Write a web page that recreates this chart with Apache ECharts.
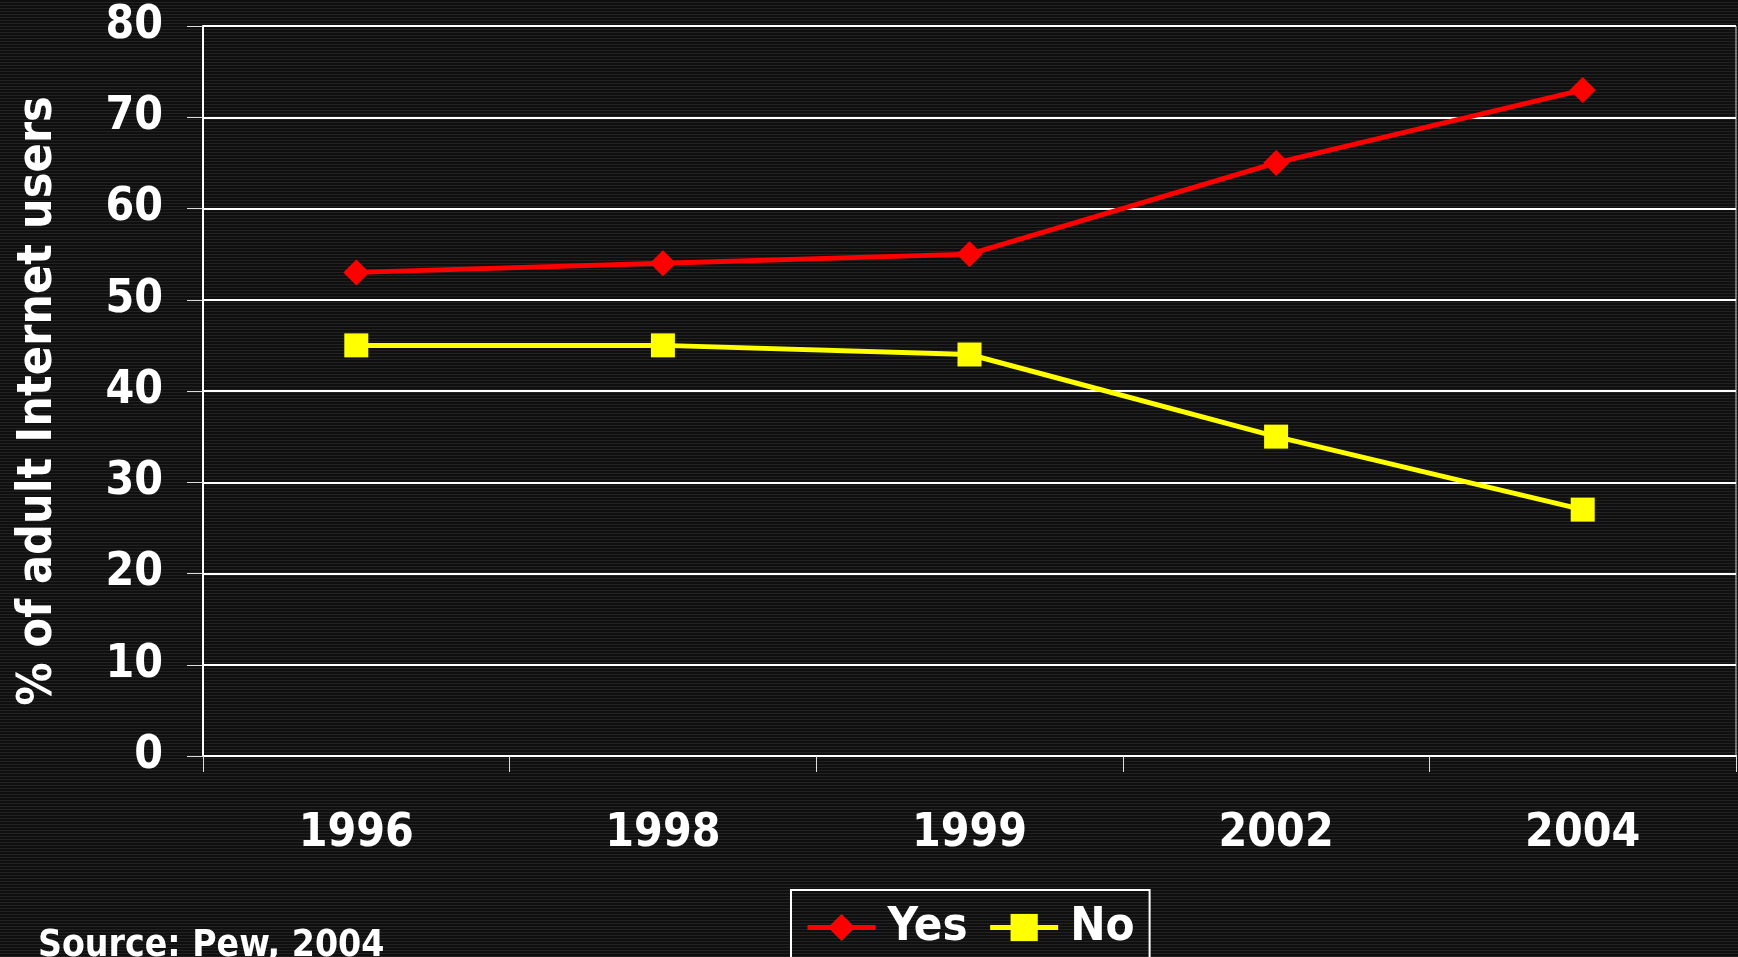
<!DOCTYPE html>
<html>
<head>
<meta charset="utf-8">
<title>Internet users</title>
<script src="https://cdn.jsdelivr.net/npm/echarts@6/dist/echarts.min.js"></script>
<style>
  html, body {
    margin: 0;
    padding: 0;
    width: 1738px;
    height: 957px;
    overflow: hidden;
    background: repeating-linear-gradient(to bottom, #0f0f0f 0px, #0f0f0f 2px, #222222 2px, #222222 3px);
  }
  #chart {
    width: 1738px;
    height: 957px;
  }
</style>
</head>
<body>
<div id="chart"></div>
<script>
const years = ['1996', '1998', '1999', '2002', '2004']
const yesValues = [53, 54, 55, 65, 73]
const noValues = [45, 45, 44, 35, 27]
const fontFamily = '"DejaVu Sans Condensed", "DejaVu Sans", sans-serif'

const chartDom = echarts.init(document.getElementById('chart'))
const option = {
  backgroundColor: 'transparent',
  animation: false,
  grid: {
    left: 203,
    right: 2,
    top: 26,
    bottom: 201,
    show: true,
    borderColor: '#cccccc',
    borderWidth: 1
  },
  legend: {
    left: 791,
    top: 890,
    padding: [14, 15, 40, 14],
    borderColor: '#ffffff',
    borderWidth: 2,
    itemWidth: 68,
    itemHeight: 34,
    itemGap: 20,
    lineStyle: { width: 5 },
    textStyle: {
      color: '#ffffff',
      fontSize: 47,
      fontWeight: 'bold',
      fontFamily: fontFamily,
      padding: [0, 0, 0, 7]
    },
    data: ['Yes', 'No']
  },
  graphic: [
    {
      type: 'text',
      left: 38,
      top: 928,
      style: {
        text: 'Source: Pew, 2004',
        fill: '#ffffff',
        font: 'bold 37px ' + fontFamily
      }
    }
  ],
  xAxis: {
    type: 'category',
    data: years,
    boundaryGap: true,
    axisLine: { lineStyle: { color: '#ffffff', width: 2 } },
    axisTick: { show: true, length: 16, lineStyle: { color: '#dddddd', width: 1 } },
    axisLabel: {
      color: '#ffffff',
      fontSize: 46,
      fontWeight: 'bold',
      fontFamily: fontFamily,
      margin: 55
    }
  },
  yAxis: {
    type: 'value',
    min: 0,
    max: 80,
    interval: 10,
    name: '% of adult Internet users',
    nameLocation: 'middle',
    nameGap: 140,
    nameTextStyle: {
      color: '#ffffff',
      fontSize: 48,
      fontWeight: 'bold',
      fontFamily: fontFamily,
      padding: [0, 20, 0, 0]
    },
    axisLine: { show: true, lineStyle: { color: '#ffffff', width: 2 } },
    axisTick: { show: true, length: 16, lineStyle: { color: '#dddddd', width: 1 } },
    axisLabel: {
      color: '#ffffff',
      fontSize: 46,
      fontWeight: 'bold',
      fontFamily: fontFamily,
      margin: 40
    },
    splitLine: { lineStyle: { color: '#ffffff', width: 2 } }
  },
  series: [
    {
      name: 'Yes',
      type: 'line',
      data: yesValues,
      symbol: 'diamond',
      symbolSize: 26,
      lineStyle: { color: '#ff0000', width: 5 },
      itemStyle: { color: '#ff0000' }
    },
    {
      name: 'No',
      type: 'line',
      data: noValues,
      symbol: 'rect',
      symbolSize: 24,
      lineStyle: { color: '#ffff00', width: 5 },
      itemStyle: { color: '#ffff00' }
    }
  ]
}
chartDom.setOption(option)
</script>
</body>
</html>
